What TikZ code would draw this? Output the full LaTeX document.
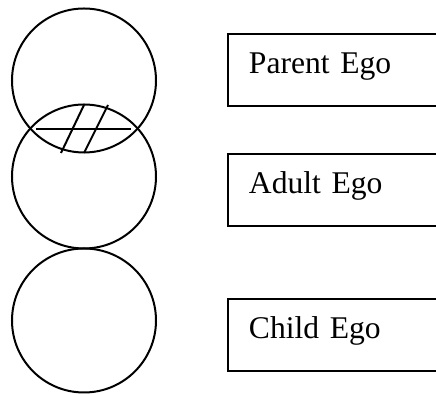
\documentclass[tikz,border=0pt]{standalone}
\usepackage{fontspec}
\setmainfont{Liberation Serif}
\usepackage{tikz}
\usetikzlibrary{positioning}

\tikzset{
	ego/.style={circle,draw,line width=1pt,minimum size=72pt,inner sep=0pt},
	egobox/.style={rectangle,draw,line width=1pt,anchor=north west,inner ysep=0pt,inner xsep=10.5pt,
		text height=20pt,text depth=16pt,text width=90pt,align=left,font=\fontsize{15.8}{19}\selectfont}
}

\begin{document}
\begin{tikzpicture}[x=0.5pt,y=-0.5pt]
			
			\useasboundingbox (0,0) rectangle (436,394);
			
			\node[ego] (parent) at (84,80.5) {};
			\node[ego] (adult) at (84,176.5) {};
			\node[ego] (child) at (84,320.5) {};
			
			\node[egobox] (parentbox) at (227,33) {Parent Ego};
			\node[egobox] (adultbox) at (227,153) {Adult Ego};
			\node[egobox] (childbox) at (227,298) {Child Ego};
			
			% overlap hatch
			\draw[line width=1pt] (36,129) -- (131,129);
			\draw[line width=1pt] (84,105) -- (61,153);
			\draw[line width=1pt] (108,105) -- (84,153);
			
		\end{tikzpicture}
\end{document}
